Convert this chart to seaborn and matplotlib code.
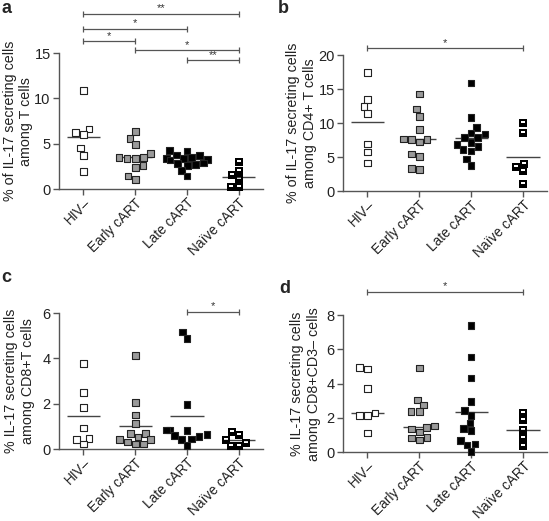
import numpy as np
import pandas as pd
import seaborn as sns
import matplotlib.pyplot as plt
from matplotlib.path import Path
from matplotlib.collections import PathCollection

sns.set_style('ticks')
plt.rcParams['font.family'] = ['Liberation Sans', 'DejaVu Sans']

groups = ['HIV–', 'Early cART', 'Late cART', 'Naïve cART']

# a: % IL-17+ among T cells
a_hiv = [10.9, 6.65, 6.24, 6.02, 4.52, 3.71, 1.94]
a_early = [6.35, 5.58, 4.92, 3.93, 3.49, 3.41, 3.52, 3.41, 2.60, 2.35, 1.06, 1.43]
a_late = [4.25, 4.2, 3.75, 3.7, 3.5, 3.4, 3.35, 3.25, 3.2, 2.9, 2.8, 2.7, 2.6, 2.05, 1.45]
a_naive = [3.01, 1.98, 1.58, 1.14, 0.18, 0.25]
a_center = [5.7, 3.5, 3.05, 1.36]

# b: among CD4+ T cells
b_hiv = [17.46, 13.52, 12.44, 11.41, 6.94, 5.76, 4.14]
b_early = [14.31, 12.10, 11.02, 9.05, 7.58, 7.23, 7.58, 7.67, 5.46, 5.12, 3.20, 3.35]
b_late = [15.93, 10.82, 9.39, 8.56, 8.41, 7.87, 7.87, 7.18, 6.84, 6.54, 6.10, 5.90, 4.72, 3.79]
b_naive = [9.98, 8.61, 4.04, 3.54, 2.95, 0.99]
b_center = [10.25, 7.72, 7.82, 4.97]

# c: among CD8+ T cells
c_hiv = [3.79, 2.50, 1.84, 0.93, 0.47, 0.41, 0.22]
c_early = [4.12, 2.06, 1.51, 1.13, 0.70, 0.69, 0.42, 0.54, 0.31, 0.41, 0.22, 0.22]
c_late = [5.17, 4.88, 1.97, 0.85, 0.85, 0.65, 0.82, 0.56, 0.59, 0.44, 0.41, 0.15]
c_naive = [0.75, 0.63, 0.40, 0.26, 0.12, 0.15]
c_center = [1.46, 1.04, 1.46, 0.38]

# d: among CD8+CD3- cells
d_hiv = [4.94, 4.86, 3.73, 2.13, 2.13, 2.29, 1.13]
d_early = [4.92, 3.05, 2.75, 2.36, 2.36, 1.43, 1.35, 1.54, 0.86, 0.72, 0.84, 1.19]
d_late = [7.38, 5.56, 4.33, 2.97, 2.42, 2.15, 1.70, 1.37, 1.25, 0.69, 0.49, 0.43, 0.04]
d_naive = [2.30, 1.86, 1.31, 0.84, 0.39]
d_center = [2.27, 1.47, 2.37, 1.27]

# significance brackets: (group1, group2, height, label)
a_sig = [(0, 3, 19.3, '**'), (0, 2, 17.7, '*'), (0, 1, 16.3, '*'), (1, 3, 15.3, '*'), (2, 3, 14.2, '**')]
b_sig = [(0, 3, 21.0, '*')]
c_sig = [(2, 3, 6.05, '*')]
d_sig = [(0, 3, 9.35, '*')]

panels = [
    ('a', [a_hiv, a_early, a_late, a_naive], a_center, a_sig, 15, [0, 5, 10, 15],
     '% of IL-17 secreting cells\namong T cells', [0.1075, 0.637, 0.372, 0.261], -0.125, (0.002, 1 - 13 / 521)),
    ('b', [b_hiv, b_early, b_late, b_naive], b_center, b_sig, 20, [0, 5, 10, 15, 20],
     '% of IL-17 secreting cells\namong CD4+ T cells', [0.625, 0.633, 0.372, 0.261], -0.127, (278 / 549, 1 - 13 / 521)),
    ('c', [c_hiv, c_early, c_late, c_naive], c_center, c_sig, 6, [0, 2, 4, 6],
     '% IL-17 secreting cells\namong CD8+T cells', [0.1075, 0.138, 0.372, 0.261], -0.12, (0.002, 1 - 282 / 521)),
    ('d', [d_hiv, d_early, d_late, d_naive], d_center, d_sig, 8, [0, 2, 4, 6, 8],
     '% IL-17 secreting cells\namong CD8+CD3– cells', [0.625, 0.132, 0.372, 0.263], -0.11, (279 / 549, 1 - 293 / 521)),
]

palette = {groups[0]: 'white', groups[1]: '#9a9a9a', groups[2]: 'black'}

# black square with a white strip near the top for the naive group
naive_marker = Path(
    [(-1, -1), (1, -1), (1, 1), (-1, 1), (-1, -1),
     (-0.62, 0.12), (-0.62, 0.66), (0.62, 0.66), (0.62, 0.12), (-0.62, 0.12)],
    [Path.MOVETO, Path.LINETO, Path.LINETO, Path.LINETO, Path.CLOSEPOLY,
     Path.MOVETO, Path.LINETO, Path.LINETO, Path.LINETO, Path.CLOSEPOLY])

axis_col = '#555555'
fig = plt.figure(figsize=(5.49, 5.21), dpi=100)

for letter, vals, center, sig, top, yticks, ylab, rect, labx, lpos in panels:
    ax = fig.add_axes(rect)
    df = pd.DataFrame({'group': np.repeat(groups, [len(v) for v in vals]),
                       'value': np.concatenate(vals)})
    sns.swarmplot(data=df[df['group'] != groups[3]], x='group', y='value', order=groups,
                  hue='group', palette=palette, marker='s', size=4.8, linewidth=0.8,
                  edgecolor='#222222', legend=False, ax=ax)
    sns.swarmplot(data=df[df['group'] == groups[3]], x='group', y='value', order=groups,
                  color='black', marker=naive_marker, size=5.4, linewidth=0,
                  ax=ax)
    for i, m in enumerate(center):
        ax.hlines(m, i - 0.32, i + 0.32, color='#444444', lw=1)
    for c in ax.collections:
        if isinstance(c, PathCollection) and len(c.get_offsets()) > 0:
            c.set_clip_on(False)

    for g1, g2, h, lab in sig:
        ax.plot([g1, g2], [h, h], color=axis_col, lw=0.9, marker='|', ms=5, mew=0.9, clip_on=False)
        ax.annotate(lab, ((g1 + g2) / 2, h), xytext=(0, 0.5), textcoords='offset points',
                    ha='center', va='bottom', fontsize=8, color='#333333', annotation_clip=False)

    ax.set_xlim(-0.47, 3.47)
    ax.set_ylim(0, top)
    ax.set_yticks(yticks)
    ax.set_xticks(range(4))
    ax.set_xticklabels(groups, rotation=45, ha='right', rotation_mode='anchor')
    ax.set_xlabel('')
    ax.set_ylabel(ylab, fontsize=10.3, color='#222222', linespacing=1.25)
    ax.yaxis.set_label_coords(labx, 0.5)
    ax.tick_params(axis='both', length=4, width=1, color=axis_col, labelsize=10.5,
                   labelcolor='#222222', pad=2)
    ax.tick_params(axis='x', labelsize=9.8, pad=1)
    sns.despine(ax=ax)
    for s in ['left', 'bottom']:
        ax.spines[s].set_color(axis_col)
        ax.spines[s].set_linewidth(1)
    ax.spines['left'].set_bounds(0, top)

    fig.text(lpos[0], lpos[1], letter, fontsize=13, fontweight='bold', va='baseline')

fig.savefig('out.png', dpi=100)
